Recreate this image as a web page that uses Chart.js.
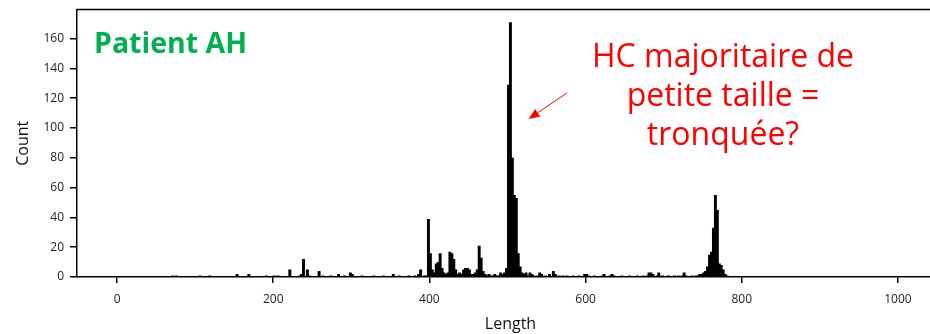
<!DOCTYPE html>
<html lang="fr">
<head>
  <meta charset="UTF-8" />
  <title>Patient AH - Length histogram</title>
  <script src="https://cdn.jsdelivr.net/npm/chart.js"></script>
  <style>
    body { margin: 0; background: #fff; overflow: hidden; }
    #wrap { width: 944px; height: 334px; }
  </style>
</head>
<body>
  <div id="wrap"><canvas id="histChart" width="944" height="334"></canvas></div>

  <script>
    // Histogram bins are 2.5 wide; only the non-empty bins are listed (left edge + count)
    const binStarts = [
      70, 75, 105, 117.5, 152.5, 167.5, 190, 200, 205, 220, 232.5, 235, 237.5, 242.5, 245,
      257.5, 262.5, 272.5, 282.5, 290, 297.5, 300, 312.5, 327.5, 340, 352.5, 360, 372.5, 380,
      385, 387.5, 392.5, 395, 397.5, 400, 402.5, 405, 407.5, 410, 412.5, 415, 417.5, 420, 422.5,
      425, 427.5, 430, 432.5, 435, 437.5, 440, 442.5, 445, 447.5, 450, 452.5, 455, 457.5, 460,
      462.5, 465, 467.5, 470, 472.5, 475, 477.5, 480, 482.5, 485, 487.5, 490, 492.5, 495, 497.5,
      500, 502.5, 505, 507.5, 510, 512.5, 515, 517.5, 520, 522.5, 525, 527.5, 530, 532.5,
      537.5, 540, 542.5, 547.5, 552.5, 557.5, 560, 565, 570, 575, 582.5, 590, 597.5, 600, 602.5,
      610, 620, 622.5, 630, 632.5, 635, 645, 655, 665, 672.5, 677.5, 680, 682.5, 685, 690, 692.5,
      697.5, 705, 712.5, 717.5, 722.5, 725, 727.5, 735, 740, 742.5, 745, 747.5, 750, 752.5, 755,
      757.5, 760, 762.5, 765, 767.5, 770, 772.5, 775, 777.5, 780
    ];
    const binCounts = [
      1, 1, 1, 1, 2, 2, 1, 1, 1, 5, 1, 2, 12, 5, 1,
      4, 1, 1, 2, 1, 3, 2, 1, 1, 1, 2, 1, 1, 1,
      2, 5, 1, 1, 39, 16, 5, 3, 9, 10, 16, 6, 3, 2, 3,
      17, 16, 12, 5, 2, 3, 2, 5, 6, 6, 5, 2, 2, 3, 5,
      21, 13, 4, 2, 1, 2, 1, 1, 2, 1, 1, 3, 2, 3, 6,
      129, 171, 80, 55, 53, 16, 7, 3, 2, 3, 1, 3, 2, 1,
      1, 3, 2, 1, 2, 4, 2, 1, 1, 1, 1, 1, 2, 2, 1,
      1, 1, 2, 1, 2, 1, 1, 1, 1, 1, 1, 3, 3, 2, 1, 3,
      1, 1, 1, 1, 1, 3, 1, 1, 1, 1, 2, 2, 3, 4, 7,
      15, 17, 33, 55, 45, 9, 8, 5, 2, 1
    ];
    const binWidth = 2.5;

    const xTicks = [0, 200, 400, 600, 800, 1000];
    const yTicks = [0, 20, 40, 60, 80, 100, 120, 140, 160];
    const xRange = [-51.3, 1059];
    const yRange = [0, 179.5];

    const panelLabel = 'Patient AH';
    const noteLines = ['HC majoritaire de', 'petite taille =', 'tronquée?'];
    // arrow in data units (length, count)
    const arrowFrom = [576, 123.5];
    const arrowTo = [527, 106];

    const points = binStarts.map((s, i) => ({ x: s + binWidth / 2, y: binCounts[i] }));

    const annotations = {
      id: 'annotations',
      afterDraw(chart) {
        const { ctx, chartArea: a, scales: { x, y } } = chart;
        ctx.save();

        // top and right spines
        ctx.strokeStyle = '#000';
        ctx.lineWidth = 1.5;
        ctx.beginPath();
        ctx.moveTo(a.left, a.top);
        ctx.lineTo(a.right, a.top);
        ctx.lineTo(a.right, a.bottom);
        ctx.stroke();

        // panel label
        ctx.fillStyle = '#00b050';
        ctx.font = 'bold 28.5px "Open Sans"';
        ctx.textAlign = 'left';
        ctx.textBaseline = 'alphabetic';
        ctx.fillText(panelLabel, a.left + 17, a.top + 43);

        // red note
        ctx.fillStyle = '#ff0000';
        ctx.font = '32px "Open Sans"';
        ctx.textAlign = 'center';
        noteLines.forEach((t, i) => ctx.fillText(t, 723, a.top + 57 + i * 39));

        // arrow
        const x0 = x.getPixelForValue(arrowFrom[0]), y0 = y.getPixelForValue(arrowFrom[1]);
        const x1 = x.getPixelForValue(arrowTo[0]), y1 = y.getPixelForValue(arrowTo[1]);
        const ang = Math.atan2(y1 - y0, x1 - x0);
        const headLen = 11, headW = 4.5;
        const bx = x1 - Math.cos(ang) * headLen, by = y1 - Math.sin(ang) * headLen;
        ctx.strokeStyle = '#ff0000';
        ctx.lineWidth = 1;
        ctx.beginPath();
        ctx.moveTo(x0, y0);
        ctx.lineTo(bx, by);
        ctx.stroke();
        ctx.fillStyle = '#ff0000';
        ctx.beginPath();
        ctx.moveTo(x1, y1);
        ctx.lineTo(bx + Math.sin(ang) * headW, by - Math.cos(ang) * headW);
        ctx.lineTo(bx - Math.sin(ang) * headW, by + Math.cos(ang) * headW);
        ctx.closePath();
        ctx.fill();

        ctx.restore();
      }
    };

    const tickFont = { family: '"Open Sans", sans-serif', size: 12 };
    const titleFont = { family: '"Open Sans", sans-serif', size: 16 };

    new Chart(document.getElementById('histChart'), {
      type: 'bar',
      data: {
        datasets: [{
          data: points,
          backgroundColor: '#000',
          borderWidth: 0,
          barPercentage: 1.5,
          categoryPercentage: 1
        }]
      },
      options: {
        responsive: false,
        animation: false,
        layout: { padding: { top: 9.5, right: 0, bottom: 0, left: 0 } },
        plugins: { legend: { display: false }, tooltip: { enabled: false } },
        scales: {
          x: {
            type: 'linear',
            offset: false,
            min: xRange[0],
            max: xRange[1],
            afterBuildTicks: s => { s.ticks = xTicks.map(v => ({ value: v })); },
            afterFit: s => { s.height = 57; s.paddingLeft = 0; s.paddingRight = 0; },
            ticks: { font: tickFont, color: '#222', padding: 9, maxRotation: 0, callback: v => String(v) },
            grid: { display: true, offset: false, drawOnChartArea: false, drawTicks: true, tickLength: 6, color: '#000', lineWidth: 1.5 },
            border: { display: true, color: '#000', width: 1.5 },
            title: { display: true, text: 'Length', font: titleFont, color: '#111', padding: { top: 0, bottom: 0 } }
          },
          y: {
            min: yRange[0],
            max: yRange[1],
            afterBuildTicks: s => { s.ticks = yTicks.map(v => ({ value: v })); },
            afterFit: s => { s.width = 77; s.paddingTop = 0; s.paddingBottom = 0; },
            ticks: { font: tickFont, color: '#222', padding: 6 },
            grid: { display: true, drawOnChartArea: false, drawTicks: true, tickLength: 7, color: '#000', lineWidth: 1.5 },
            border: { display: true, color: '#000', width: 1.5 },
            title: { display: true, text: 'Count', font: titleFont, color: '#111', padding: { top: 14, bottom: 0 } }
          }
        }
      },
      plugins: [annotations]
    });
  </script>
</body>
</html>
